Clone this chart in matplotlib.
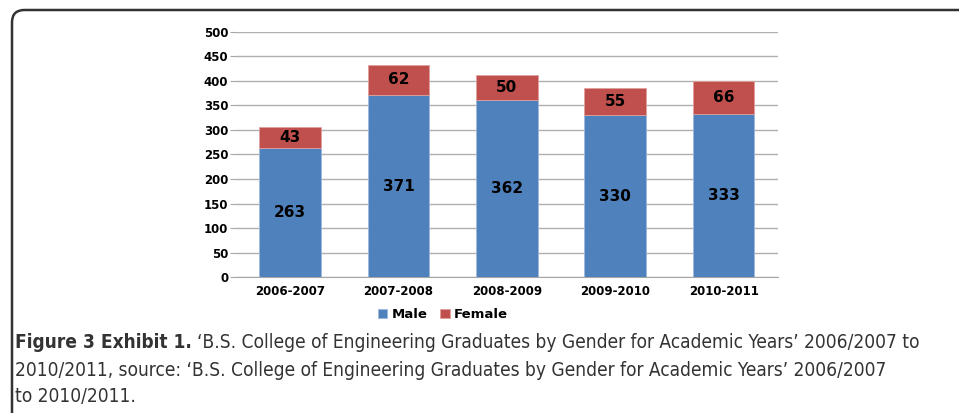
import matplotlib.pyplot as plt
import numpy as np
from matplotlib.patches import FancyBboxPatch

# データ
years = ["2006-2007", "2007-2008", "2008-2009", "2009-2010", "2010-2011"]
male = [263, 371, 362, 330, 333]
female = [43, 62, 50, 55, 66]
yticks = [0, 50, 100, 150, 200, 250, 300, 350, 400, 450, 500]

blue = "#4F81BD"
red = "#C0504D"

fig = plt.figure(figsize=(9.59, 4.13), dpi=100)
ax = fig.add_axes([0.246, 0.329, 0.565, 0.594])

x = np.arange(len(years))
w = 0.57
ax.bar(x, male, w, color=blue, edgecolor="#9DB9DC", linewidth=0.6, label="Male", zorder=3)
ax.bar(x, female, w, bottom=male, color=red, edgecolor="#E0A09E", linewidth=0.6, label="Female", zorder=3)

# 値ラベル
for i in range(len(years)):
    ax.text(x[i], male[i] / 2, str(male[i]), ha="center", va="center",
            fontsize=11, fontweight="bold", color="black", zorder=4)
    ax.text(x[i], male[i] + female[i] / 2, str(female[i]), ha="center", va="center",
            fontsize=11, fontweight="bold", color="black", zorder=4)

ax.set_xlim(-0.5, len(years) - 0.5)
ax.set_ylim(0, 500)
ax.set_yticks(yticks)
ax.set_xticks(x)
ax.set_xticklabels(years)
ax.tick_params(axis="y", length=4, color="#A6A6A6", labelsize=8.5, pad=1.5)
ax.tick_params(axis="x", length=0, labelsize=8.5, pad=6)
for lbl in ax.get_xticklabels() + ax.get_yticklabels():
    lbl.set_fontweight("bold")
ax.grid(axis="y", color="#B0B0B0", linewidth=1.0, zorder=0)
for s in ["top", "right", "left"]:
    ax.spines[s].set_visible(False)
ax.spines["bottom"].set_color("#A6A6A6")

ax.legend(loc="upper center", bbox_to_anchor=(0.382, -0.105), ncol=2, frameon=False,
          prop={"weight": "bold", "size": 9.5}, handlelength=0.7, handleheight=0.7,
          handletextpad=0.3, columnspacing=1.0, borderaxespad=0)

# 枠線
border = FancyBboxPatch((12 / 959, -0.2), 1.2, 0.2 + 1 - 10 / 413,
                        boxstyle="round,pad=0,rounding_size=0.013",
                        transform=fig.transFigure, fill=False,
                        edgecolor="#333333", linewidth=1.8, mutation_aspect=959 / 413)
fig.patches.append(border)

# キャプション
cap = dict(family="DejaVu Sans", stretch="condensed", fontsize=13.7, va="center", color="#333333")
fig.canvas.draw()
r = fig.canvas.get_renderer()
t1 = fig.text(15 / 959, 1 - 343 / 413, "Figure 3 Exhibit 1.", fontweight="bold", **cap)
bb = t1.get_window_extent(renderer=r)
fig.text(bb.x1 / 959 + 5 / 959, 1 - 343 / 413,
         "\u2018B.S. College of Engineering Graduates by Gender for Academic Years\u2019 2006/2007 to", **cap)
fig.text(15 / 959, 1 - 370 / 413,
         "2010/2011, source: \u2018B.S. College of Engineering Graduates by Gender for Academic Years\u2019 2006/2007", **cap)
fig.text(15 / 959, 1 - 397 / 413, "to 2010/2011.", **cap)

fig.savefig("out.png", dpi=100)
